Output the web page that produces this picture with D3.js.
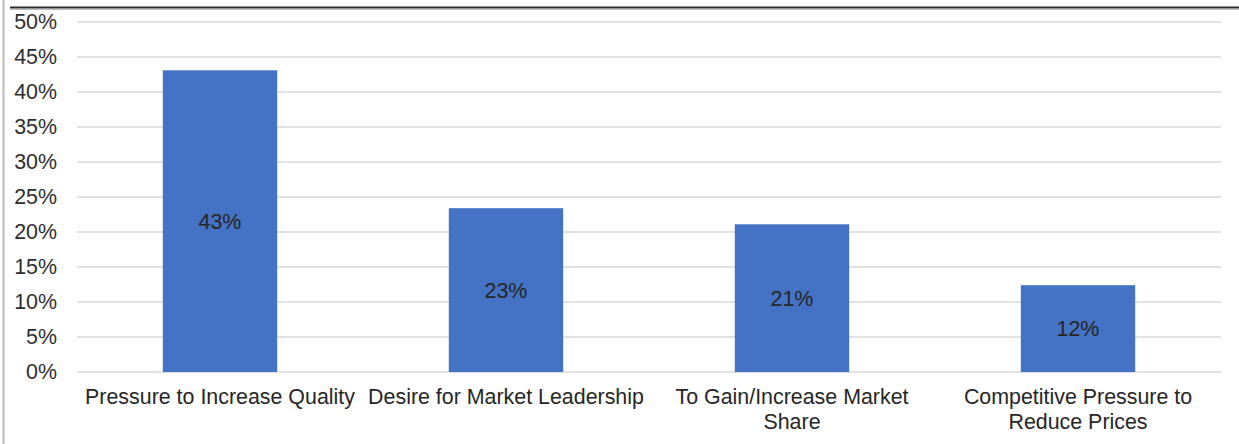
<!DOCTYPE html>
<html>
<head>
<meta charset="utf-8">
<script src="https://cdn.jsdelivr.net/npm/d3@7"></script>
<style>
  html, body { margin: 0; padding: 0; background: #fff; }
  svg { display: block; font-family: "Liberation Sans", Arial, sans-serif; }
</style>
</head>
<body>
<svg id="chart" width="1239" height="444"></svg>
<script>
// Drivers behind the initiative, share of respondents
const categories = [
  "Pressure to Increase Quality",
  "Desire for Market Leadership",
  "To Gain/Increase Market Share",
  "Competitive Pressure to Reduce Prices"
];
const values = [0.431, 0.234, 0.211, 0.124];
const yTicks = [0, 0.05, 0.10, 0.15, 0.20, 0.25, 0.30, 0.35, 0.40, 0.45, 0.50];

const W = 1239, H = 444;
const plot = { left: 77, right: 1221, top: 22, bottom: 372 };
const svg = d3.select("#chart");
const pct = d3.format(".0%");
const FONT = 21.4;

// Frame: light left rule and dark top rule
svg.append("line")
  .attr("x1", 3.5).attr("x2", 3.5).attr("y1", 0).attr("y2", H)
  .attr("stroke", "#c8c8c8").attr("stroke-width", 2.5);
svg.append("line")
  .attr("x1", 10).attr("x2", W).attr("y1", 7.5).attr("y2", 7.5)
  .attr("stroke", "#2b2b2b").attr("stroke-width", 2);
svg.append("line")
  .attr("x1", 10).attr("x2", W).attr("y1", 9.5).attr("y2", 9.5)
  .attr("stroke", "#bdbdbd").attr("stroke-width", 1);

const x = d3.scaleBand()
  .domain(categories)
  .range([plot.left, plot.right])
  .paddingInner(0.6)
  .paddingOuter(0.3);

const y = d3.scaleLinear()
  .domain([0, 0.5])
  .range([plot.bottom, plot.top]);

// Horizontal gridlines
svg.append("g")
  .selectAll("line")
  .data(yTicks)
  .join("line")
  .attr("x1", plot.left).attr("x2", plot.right)
  .attr("y1", d => y(d)).attr("y2", d => y(d))
  .attr("stroke", "#d9d9d9").attr("stroke-width", 1.5);

// Y axis tick labels
const yAxis = d3.axisLeft(y)
  .tickValues(yTicks)
  .tickFormat(pct)
  .tickSize(0)
  .tickPadding(0);
const gy = svg.append("g")
  .attr("transform", `translate(57,0)`)
  .call(yAxis);
gy.select(".domain").remove();
gy.selectAll("text")
  .attr("font-size", FONT)
  .attr("fill", "#2e2e2e")
  .attr("font-family", "Liberation Sans, Arial, sans-serif");

// Bars
svg.append("g")
  .selectAll("rect")
  .data(values)
  .join("rect")
  .attr("x", (d, i) => x(categories[i]))
  .attr("width", x.bandwidth())
  .attr("y", d => y(d))
  .attr("height", d => y(0) - y(d))
  .attr("fill", "#4472c4");

// Value labels centred inside bars
svg.append("g")
  .selectAll("text")
  .data(values)
  .join("text")
  .attr("x", (d, i) => x(categories[i]) + x.bandwidth() / 2)
  .attr("y", d => (y(d) + y(0)) / 2)
  .attr("dy", "0.35em")
  .attr("text-anchor", "middle")
  .attr("font-size", FONT)
  .attr("fill", "#262626")
  .text(d => pct(d));

// Category labels, wrapped to the band step
const step = x.step();
const xAxis = d3.axisBottom(x).tickSize(0).tickPadding(0);
const gx = svg.append("g")
  .attr("transform", `translate(0,${plot.bottom})`)
  .call(xAxis);
gx.select(".domain").remove();
gx.selectAll("text")
  .attr("font-size", FONT)
  .attr("fill", "#262626")
  .attr("font-family", "Liberation Sans, Arial, sans-serif")
  .attr("y", 32)
  .attr("dy", 0)
  .each(function (d) {
    const t = d3.select(this);
    const words = d.split(" ");
    t.text(null);
    let lines = [], line = [];
    const probe = t.append("tspan");
    words.forEach(w => {
      const trial = line.concat(w).join(" ");
      probe.text(trial);
      if (probe.node().getComputedTextLength() > step - 6 && line.length) {
        lines.push(line.join(" "));
        line = [w];
      } else {
        line.push(w);
      }
    });
    lines.push(line.join(" "));
    probe.remove();
    lines.forEach((l, i) => {
      t.append("tspan")
        .attr("x", 0)
        .attr("y", 32 + i * 25)
        .text(l);
    });
  });
</script>
</body>
</html>
